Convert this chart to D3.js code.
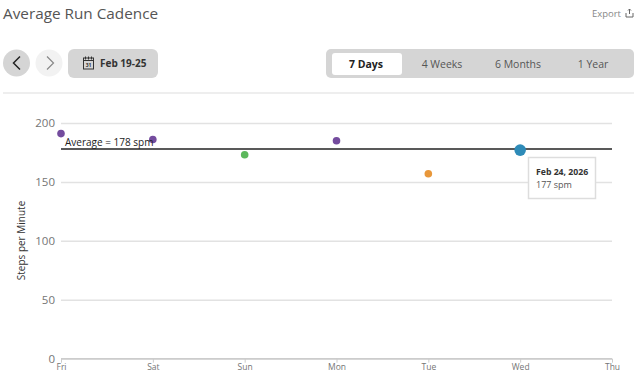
<!DOCTYPE html>
<html lang="en">
<head>
<meta charset="UTF-8">
<title>Average Run Cadence</title>
<script src="https://cdn.jsdelivr.net/npm/d3@7/dist/d3.min.js"></script>
<style>
    html, body { margin: 0; padding: 0; background: #fff; overflow: hidden; }
    svg { display: block; font-family: "Open Sans", sans-serif; }
    .y-axis .domain, .x-axis .domain { display: none; }
    .y-axis .tick line { stroke: #e2e2e2; stroke-width: 1.5px; }
    .y-axis .tick text { fill: #757575; font-size: 11.5px; font-family: "Open Sans", sans-serif; }
    .x-axis .tick line { stroke: #ccc; }
    .x-axis .tick text { fill: #757575; font-size: 8.5px; font-family: "Open Sans", sans-serif; }
</style>
</head>
<body>
<script>
    const width = 640;
    const height = 389;

    // chart data
    const days = ['Fri', 'Sat', 'Sun', 'Mon', 'Tue', 'Wed', 'Thu'];
    const cadence = [191, 186, 173, 185, 157, 177];
    const dotColors = ['#744c9e', '#744c9e', '#5cb85c', '#744c9e', '#e8973a', '#2e8bb8'];
    const yTicks = [0, 50, 100, 150, 200];
    const average = 178;
    const ranges = ['7 Days', '4 Weeks', '6 Months', '1 Year'];
    const rangeCenters = [366, 442, 518, 593];

    const svg = d3.select('body').append('svg')
        .attr('width', width)
        .attr('height', height);

    const x = d3.scalePoint().domain(days).range([61, 612]);
    const y = d3.scaleLinear().domain([0, 200]).range([358.7, 123]);

    // header
    svg.append('text').attr('x', 3).attr('y', 18.5)
        .attr('font-size', 15.3).attr('fill', '#555').text('Average Run Cadence');
    svg.append('text').attr('x', 621).attr('y', 17).attr('text-anchor', 'end')
        .attr('font-size', 9.5).attr('fill', '#888').text('Export');
    const exportIcon = svg.append('g').attr('fill', 'none').attr('stroke', '#666').attr('stroke-width', 1);
    exportIcon.append('path').attr('d', 'M626 13v4h7v-4');
    exportIcon.append('path').attr('d', 'M629.5 9v5M628 10.5l1.5-1.5 1.5 1.5');

    // back / forward buttons
    svg.append('circle').attr('cx', 16.5).attr('cy', 63).attr('r', 13.5).attr('fill', '#d5d5d5');
    svg.append('path').attr('d', 'M20 56.5l-6.5 6.5 6.5 6.5').attr('fill', 'none')
        .attr('stroke', '#222').attr('stroke-width', 1.5);
    svg.append('circle').attr('cx', 49).attr('cy', 63).attr('r', 13.5).attr('fill', '#f2f2f2');
    svg.append('path').attr('d', 'M47 56.5l6.5 6.5-6.5 6.5').attr('fill', 'none')
        .attr('stroke', '#888').attr('stroke-width', 1.2);

    // date button
    svg.append('rect').attr('x', 68).attr('y', 49).attr('width', 90).attr('height', 29)
        .attr('rx', 6).attr('fill', '#d5d5d5');
    const cal = svg.append('g').attr('fill', 'none').attr('stroke', '#333').attr('stroke-width', 1);
    cal.append('rect').attr('x', 83.5).attr('y', 58).attr('width', 10).attr('height', 11);
    cal.append('path').attr('d', 'M83.5 60.5h10M85.5 56.5v3M88.5 56.5v3M91.5 56.5v3');
    svg.append('text').attr('x', 88.5).attr('y', 67).attr('text-anchor', 'middle')
        .attr('font-size', 5).attr('font-weight', 700).attr('fill', '#333').text('31');
    svg.append('text').attr('x', 100).attr('y', 67)
        .attr('font-size', 10).attr('font-weight', 700).attr('fill', '#333').text('Feb 19-25');

    // range selector
    svg.append('rect').attr('x', 326).attr('y', 49).attr('width', 308).attr('height', 29)
        .attr('rx', 5).attr('fill', '#d5d5d5');
    svg.append('rect').attr('x', 332).attr('y', 53).attr('width', 70).attr('height', 22)
        .attr('rx', 3).attr('fill', '#fff');
    svg.selectAll('.range').data(ranges).enter().append('text')
        .attr('class', 'range')
        .attr('x', (d, i) => rangeCenters[i])
        .attr('y', 67.5)
        .attr('text-anchor', 'middle')
        .attr('font-size', 10.5)
        .attr('font-weight', (d, i) => i === 0 ? 700 : 400)
        .attr('fill', (d, i) => i === 0 ? '#222' : '#555')
        .text(d => d);

    svg.append('line').attr('x1', 3).attr('x2', 634).attr('y1', 93).attr('y2', 93)
        .attr('stroke', '#ddd').attr('stroke-width', 1.2);

    // axes
    svg.append('g').attr('class', 'y-axis')
        .attr('transform', 'translate(61,0)')
        .call(d3.axisLeft(y).tickValues(yTicks).tickSize(-551).tickPadding(6));
    svg.append('g').attr('class', 'x-axis')
        .attr('transform', 'translate(0,358.7)')
        .call(d3.axisBottom(x).tickSize(4).tickPadding(1));
    svg.select('.x-axis').insert('line', ':first-child')
        .attr('x1', 61).attr('x2', 612).attr('stroke', '#ccc').attr('stroke-width', 1.5);

    svg.append('text')
        .attr('transform', 'translate(25,240.5) rotate(-90)')
        .attr('text-anchor', 'middle')
        .attr('font-size', 10).attr('fill', '#333')
        .text('Steps per Minute');

    // average line
    svg.append('line')
        .attr('x1', x('Fri')).attr('x2', x('Thu'))
        .attr('y1', y(average)).attr('y2', y(average))
        .attr('stroke', '#222').attr('stroke-width', 1.5);

    // dots
    svg.selectAll('.dot').data(cadence).enter().append('circle')
        .attr('class', 'dot')
        .attr('cx', (d, i) => x(days[i]))
        .attr('cy', d => y(d))
        .attr('r', (d, i) => i === 5 ? 5.8 : 3.8)
        .attr('fill', (d, i) => dotColors[i]);

    svg.append('text').attr('x', 65).attr('y', y(average) - 3)
        .attr('font-size', 10).attr('fill', '#222').text('Average = ' + average + ' spm');

    // tooltip for the selected day
    svg.append('rect').attr('x', 528.5).attr('y', 157.5).attr('width', 67).attr('height', 41)
        .attr('fill', '#fff').attr('stroke', '#ddd').attr('stroke-width', 1.5);
    svg.append('text').attr('x', 536).attr('y', 175)
        .attr('font-size', 8.7).attr('font-weight', 700).attr('fill', '#333').text('Feb 24, 2026');
    svg.append('text').attr('x', 536).attr('y', 188)
        .attr('font-size', 9).attr('fill', '#555').text(cadence[5] + ' spm');
</script>
</body>
</html>
